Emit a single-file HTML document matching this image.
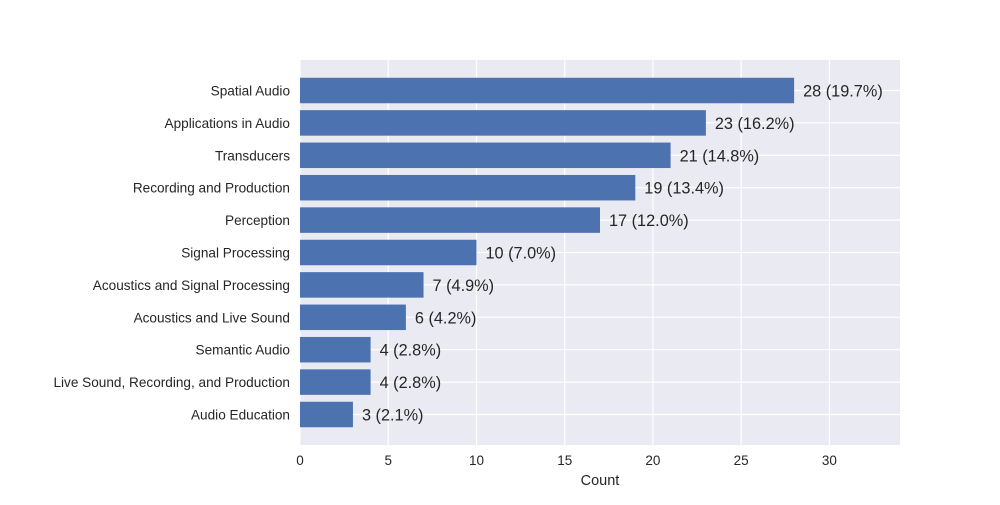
<!DOCTYPE html>
<html><head><meta charset="utf-8"><style>
body{margin:0;background:#fff;}
svg text{font-family:"Liberation Sans",sans-serif;}
</style></head><body>
<svg id="chart" width="1000" height="500" xmlns="http://www.w3.org/2000/svg"></svg>
<script>
const categories = ["Spatial Audio","Applications in Audio","Transducers","Recording and Production","Perception","Signal Processing","Acoustics and Signal Processing","Acoustics and Live Sound","Semantic Audio","Live Sound, Recording, and Production","Audio Education"];
const counts = [28,23,21,19,17,10,7,6,4,4,3];
const percents = ["19.7","16.2","14.8","13.4","12.0","7.0","4.9","4.2","2.8","2.8","2.1"];
const xTicks = [0,5,10,15,20,25,30];

const svg = document.getElementById('chart');
const NS = 'http://www.w3.org/2000/svg';
const L=300,R=900,T=60,B=445,xMax=34;
const x = v => L + v*(R-L)/xMax;
const step = 32.4, first = 90.5;
const y = i => first + i*step;
const bh = 25.5;
function mk(tag, attrs, parent){const e=document.createElementNS(NS,tag);for(const k in attrs)e.setAttribute(k,attrs[k]);(parent||svg).appendChild(e);return e;}

const bg = mk('rect',{x:L,y:T,width:R-L,height:B-T,fill:'#eaeaf2'});



xTicks.forEach(t=>{
  const g = mk('line',{x1:x(t),x2:x(t),y1:T,y2:B,stroke:'#fff','stroke-width':1.2});
  
  
  const tl = mk('text',{x:x(t),y:B+20,'text-anchor':'middle','font-size':13.5,fill:'#262626'});
  tl.textContent = t;
  
  
});
categories.forEach((c,i)=>{
  const g = mk('line',{x1:L,x2:R,y1:y(i),y2:y(i),stroke:'#fff','stroke-width':1.2});
  
  
});
categories.forEach((c,i)=>{
  const b = mk('rect',{x:L,y:y(i)-bh/2,width:x(counts[i])-L,height:bh,fill:'#4c72b0'});
  
  
  const lab = mk('text',{x:L-10,y:y(i)+5,'text-anchor':'end','font-size':13.6,fill:'#262626'});
  lab.textContent = c;
  
  
  const v = mk('text',{x:x(counts[i])+9,y:y(i)+6,'font-size':16.3,fill:'#262626'});
  v.textContent = counts[i]+' ('+percents[i]+'%)';
  
  
});
const xt = mk('text',{x:(L+R)/2,y:485,'text-anchor':'middle','font-size':14.5,fill:'#262626'});
xt.textContent='Count';


</script>
</body></html>
